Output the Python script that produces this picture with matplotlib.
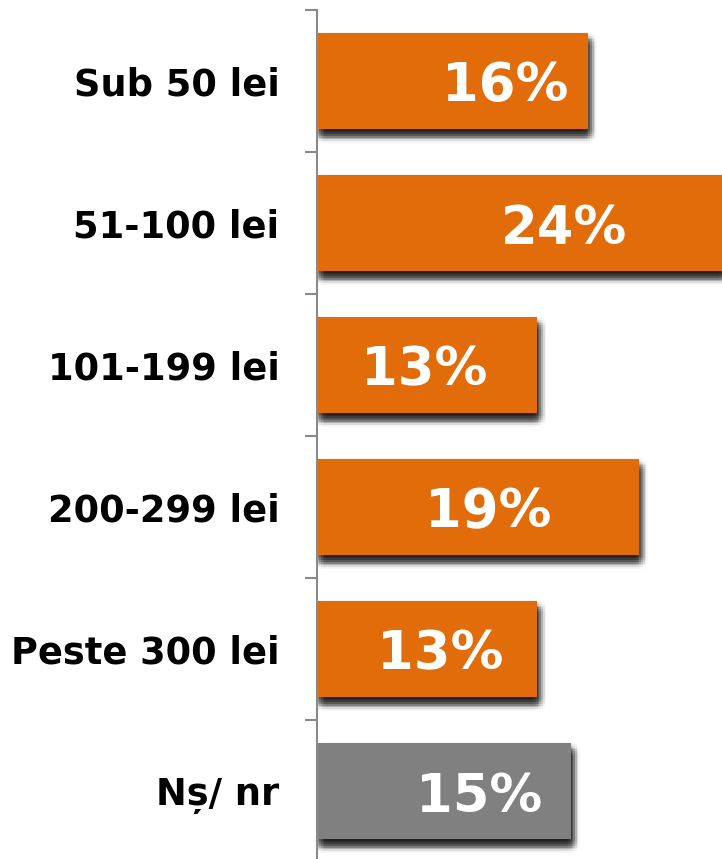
import numpy as np
import matplotlib.pyplot as plt
import matplotlib.transforms as mtransforms

# data:
categories = ['Sub 50 lei', '51-100 lei', '101-199 lei', '200-299 lei', 'Peste 300 lei', 'Nș/ nr']
values = [16, 24, 13, 19, 13, 15]
value_labels = ['16%', '24%', '13%', '19%', '13%', '15%']
label_x = [11.1, 14.6, 6.35, 10.1, 7.25, 9.55]  # where the percent text sits inside each bar

ORANGE = '#E36C0A'
GREY = '#808080'
colors = [ORANGE] * 5 + [GREY]


# soft drop shadow: faint black copies of the bars, shifted a few points, gaussian weighted
def draw_shadow(fig, ax, y, widths, height):
    cx, cy, sigma = 1.5, -4.8, 2.5
    for dx in np.linspace(cx - 5, cx + 5, 9):
        for dy in np.linspace(cy - 5, cy + 5, 9):
            w = np.exp(-((dx - cx) ** 2 + (dy - cy) ** 2) / (2 * sigma ** 2))
            shift = mtransforms.ScaledTranslation(dx / 72, dy / 72, fig.dpi_scale_trans)
            ax.barh(y, widths, height=height, color='black', alpha=0.065 * w,
                    linewidth=0, zorder=1, transform=ax.transData + shift)


def main():
    fig = plt.figure(figsize=(7.22, 8.59), dpi=100)
    ax = fig.add_axes([317 / 722, -3 / 859, 405 / 722, 852 / 859])

    y = np.arange(len(categories))
    draw_shadow(fig, ax, y, values, 0.68)
    ax.barh(y, values, height=0.68, color=colors, linewidth=0, zorder=2)

    for yi, lx, txt in zip(y, label_x, value_labels):
        ax.text(lx, yi, txt, ha='center', va='center_baseline', color='white',
                fontsize=38, fontweight='bold', zorder=3)

    ax.set_xlim(0, 23.9)
    ax.set_ylim(len(categories) - 0.5, -0.5)

    # tick marks between categories, labels at category centres
    ax.set_yticks(np.arange(len(categories) + 1) - 0.5)
    ax.set_yticklabels([])
    ax.set_yticks(y, minor=True)
    ax.set_yticklabels(categories, minor=True, fontsize=26.5, fontweight='bold')
    ax.tick_params(axis='y', which='major', direction='out', length=9, width=1.5, color='#898989')
    ax.tick_params(axis='y', which='minor', length=0, pad=27)
    ax.set_xticks([])

    for side in ['top', 'right', 'bottom']:
        ax.spines[side].set_visible(False)
    ax.spines['left'].set_color('#898989')
    ax.spines['left'].set_linewidth(1.5)

    fig.savefig('out.png', dpi=100)


if __name__ == "__main__":
    main()
